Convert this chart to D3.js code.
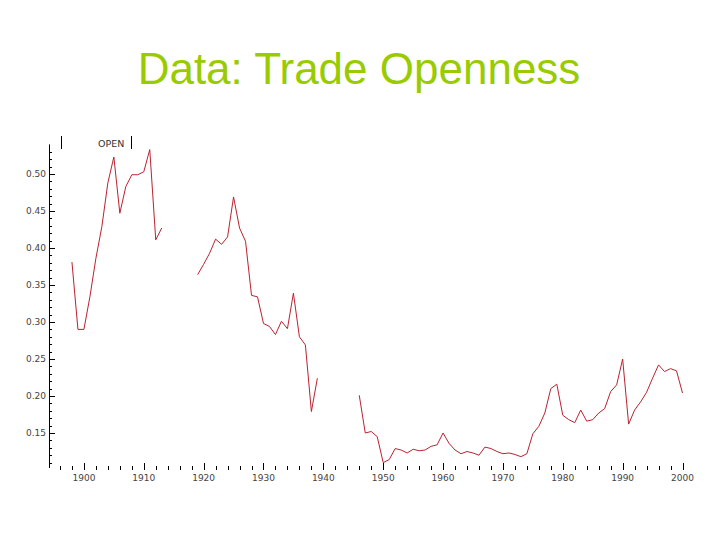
<!DOCTYPE html>
<html>
<head>
<meta charset="utf-8">
<script src="https://cdnjs.cloudflare.com/ajax/libs/d3/7.8.5/d3.min.js"></script>
<style>
  body { margin: 0; background: #fff; }
  .tick-label { font-family: "DejaVu Sans", sans-serif; font-size: 9px; fill: #444; }
</style>
</head>
<body>
<div id="graph1"></div>
<script>
var title = "Data: Trade Openness";
var seriesName = "OPEN";

// years and trade openness values (null = no data)
var years = [];
for (var yr = 1898; yr <= 2000; yr++) years.push(yr);

var open1898 = [0.381, 0.290, 0.290, 0.334, 0.386, 0.429, 0.488, 0.523, 0.447, 0.483,
                0.499, 0.499, 0.503, 0.533, 0.411, 0.427];
var openWar1 = [null, null, null, null, null];   // 1914-1918
var open1919 = [0.364, 0.378, 0.393, 0.412, 0.405, 0.415, 0.469, 0.427, 0.409, 0.336,
                0.334, 0.298, 0.294, 0.283, 0.301, 0.291, 0.339, 0.280, 0.269, 0.179,
                0.224];
var openWar2 = [null, null, null, null, null, null];   // 1940-1945
var open1946 = [0.201, 0.150, 0.152, 0.145, 0.110, 0.114, 0.129, 0.127, 0.123, 0.128,
                0.126, 0.127, 0.132, 0.134, 0.150, 0.136, 0.127, 0.122, 0.125, 0.123,
                0.120, 0.131, 0.129, 0.125, 0.122, 0.123, 0.121, 0.118, 0.122, 0.149,
                0.159, 0.177, 0.210, 0.216, 0.174, 0.168, 0.164, 0.181, 0.166, 0.168,
                0.177, 0.183, 0.206, 0.215, 0.250, 0.162, 0.181, 0.192, 0.205, 0.224,
                0.242, 0.233, 0.237, 0.234, 0.204];
var openValues = open1898.concat(openWar1, open1919, openWar2, open1946);

var xTicks = [1900, 1910, 1920, 1930, 1940, 1950, 1960, 1970, 1980, 1990, 2000];
var yTicks = [0.15, 0.20, 0.25, 0.30, 0.35, 0.40, 0.45, 0.50];

var data = years.map(function(d, i) { return {year: d, open: openValues[i]}; });

var svg = d3.select("#graph1")
  .append("svg")
    .attr("width", 720)
    .attr("height", 540);

// title
svg.append("text")
    .attr("x", 359)
    .attr("y", 84)
    .attr("text-anchor", "middle")
    .style("font-family", "'Liberation Sans', Arial, sans-serif")
    .style("font-size", "44px")
    .style("fill", "#99cc00")
    .text(title);

// Set the ranges
var x = d3.scaleLinear().domain([1894, 2000]).range([48, 682.5]);
var y = d3.scaleLinear().domain([0.10, 0.54]).range([470, 144.4]);

// Y axis line + ticks
svg.append("line")
    .attr("x1", 49.5).attr("x2", 49.5)
    .attr("y1", y(0.54)).attr("y2", 468)
    .attr("stroke", "#000").attr("stroke-width", 1);

var yMinor = d3.range(11, 54).map(function(d) { return d / 100; });
svg.selectAll(".ymin")
    .data(yMinor)
  .enter().append("line")
    .attr("x1", 49)
    .attr("x2", function(d) { return Math.round(d * 100) % 5 == 0 ? 55 : 52; })
    .attr("y1", function(d) { return Math.round(y(d)) + 0.5; })
    .attr("y2", function(d) { return Math.round(y(d)) + 0.5; })
    .attr("stroke", "#000");

svg.selectAll(".ylab")
    .data(yTicks)
  .enter().append("text")
    .attr("class", "tick-label")
    .attr("x", 46)
    .attr("y", function(d) { return y(d) + 3; })
    .attr("text-anchor", "end")
    .text(function(d) { return d.toFixed(2); });

// X axis ticks (no domain line)
var xMinor = d3.range(1896, 2001, 2);
svg.selectAll(".xmin")
    .data(xMinor)
  .enter().append("line")
    .attr("x1", function(d) { return Math.round(x(d)) + 0.5; })
    .attr("x2", function(d) { return Math.round(x(d)) + 0.5; })
    .attr("y1", function(d) { return d % 10 == 0 ? 463 : 466; })
    .attr("y2", 470)
    .attr("stroke", "#000");

svg.selectAll(".xlab")
    .data(xTicks)
  .enter().append("text")
    .attr("class", "tick-label")
    .attr("x", function(d) { return x(d); })
    .attr("y", 481)
    .attr("text-anchor", "middle")
    .text(function(d) { return d; });

// legend
svg.append("line").attr("x1", 61.5).attr("x2", 61.5).attr("y1", 136).attr("y2", 149).attr("stroke", "#000");
svg.append("text")
    .attr("x", 98)
    .attr("y", 147)
    .style("font-family", "'DejaVu Sans', sans-serif")
    .style("font-size", "9.5px")
    .style("fill", "#333")
    .text(seriesName);
svg.append("line").attr("x1", 131.5).attr("x2", 131.5).attr("y1", 136).attr("y2", 149).attr("stroke", "#000");

// Define the line
var valueline = d3.line()
  .defined(function(d) { return d.open != null; })
  .x(function(d) { return x(d.year); })
  .y(function(d) { return y(d.open); });

svg.append("path")
    .attr("d", valueline(data))
    .attr("fill", "none")
    .attr("stroke", "#bb2230")
    .attr("stroke-width", 1);
</script>
</body>
</html>
